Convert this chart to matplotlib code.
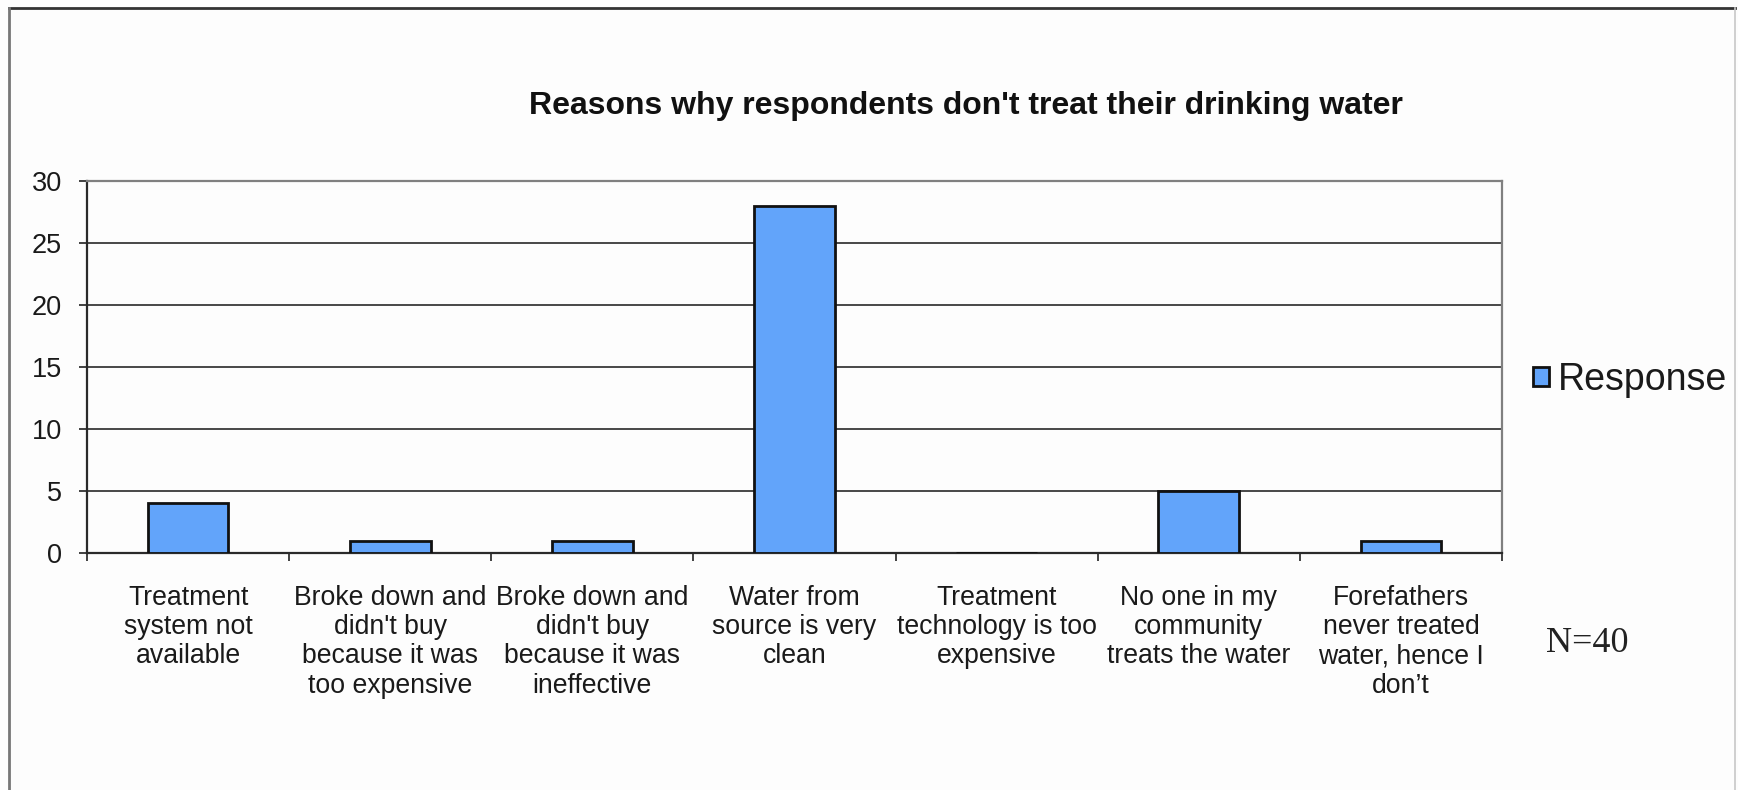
import matplotlib
matplotlib.use("Agg")
import matplotlib.pyplot as plt
from matplotlib.lines import Line2D
import numpy as np

# Survey responses: reasons for not treating drinking water (N=40)
categories = [
    "Treatment\nsystem not\navailable",
    "Broke down and\ndidn't buy\nbecause it was\ntoo expensive",
    "Broke down and\ndidn't buy\nbecause it was\nineffective",
    "Water from\nsource is very\nclean",
    "Treatment\ntechnology is too\nexpensive",
    "No one in my\ncommunity\ntreats the water",
    "Forefathers\nnever treated\nwater, hence I\ndon\u2019t",
]
responses = [4, 1, 1, 28, 0, 5, 1]
y_ticks = [0, 5, 10, 15, 20, 25, 30]
series_name = "Response"
title = "Reasons why respondents don't treat their drinking water"
note = "N=40"

W, H = 1738, 790
fig = plt.figure(figsize=(W / 100, H / 100), dpi=100)
fig.patch.set_facecolor("#fdfdfd")
plt.rcParams["font.family"] = ["Liberation Sans", "DejaVu Sans"]

# plot area in pixel terms
left, right, top, bottom = 87, 1502, 181, 553
ax = fig.add_axes([left / W, 1 - bottom / H, (right - left) / W, (bottom - top) / H])
ax.set_facecolor("#fdfdfd")

x = np.arange(len(categories))
ax.bar(x, responses, width=0.4, color="#62A4FA", edgecolor="#111111",
       linewidth=2, label=series_name, zorder=3)

ax.set_xlim(-0.5, len(categories) - 0.5)
ax.set_ylim(0, 30)
ax.set_yticks(y_ticks)
ax.set_yticklabels([str(v) for v in y_ticks], fontsize=19.5, color="#1a1a1a")
ax.yaxis.grid(True, color="#3a3a3a", linewidth=1.3, zorder=0)
ax.tick_params(axis="y", direction="out", length=6, width=1.3, color="#333333", pad=12)

# category labels at bar centres, tick marks at category boundaries
ax.set_xticks(x)
ax.set_xticklabels(categories, fontsize=19.2, color="#1a1a1a", linespacing=1.16)
ax.tick_params(axis="x", which="major", length=0, pad=23)
ax.set_xticks(np.arange(len(categories) + 1) - 0.5, minor=True)
ax.tick_params(axis="x", which="minor", direction="out", length=6, width=1.3, color="#333333")

for side in ("left", "bottom"):
    ax.spines[side].set_color("#2a2a2a")
    ax.spines[side].set_linewidth(1.6)
for side in ("top", "right"):
    ax.spines[side].set_color("#808080")
    ax.spines[side].set_linewidth(1.6)

fig.text(966 / W, 1 - 106 / H, title, ha="center", va="center",
         fontsize=23, fontweight="bold", color="#111111")

leg = fig.legend(loc="center left", bbox_to_anchor=(1533 / W, 1 - 380 / H),
                 frameon=False, fontsize=27, handlelength=0.42, handleheight=0.42,
                 handletextpad=0.24, borderpad=0, borderaxespad=0)
for t in leg.get_texts():
    t.set_color("#1a1a1a")

fig.text(1546 / W, 1 - 643 / H, note, ha="left", va="center",
         fontsize=26, family="Liberation Serif", color="#222222")

# outer chart frame
fig.add_artist(Line2D([9 / W, 1735 / W], [1 - 8 / H, 1 - 8 / H],
                      transform=fig.transFigure, color="#333333", linewidth=2))
fig.add_artist(Line2D([9 / W, 9 / W], [0, 1 - 8 / H],
                      transform=fig.transFigure, color="#777777", linewidth=2))
fig.add_artist(Line2D([1735 / W, 1735 / W], [0, 1 - 8 / H],
                      transform=fig.transFigure, color="#c8c8c8", linewidth=1.2))

fig.savefig("out.png", dpi=100, facecolor=fig.get_facecolor())
